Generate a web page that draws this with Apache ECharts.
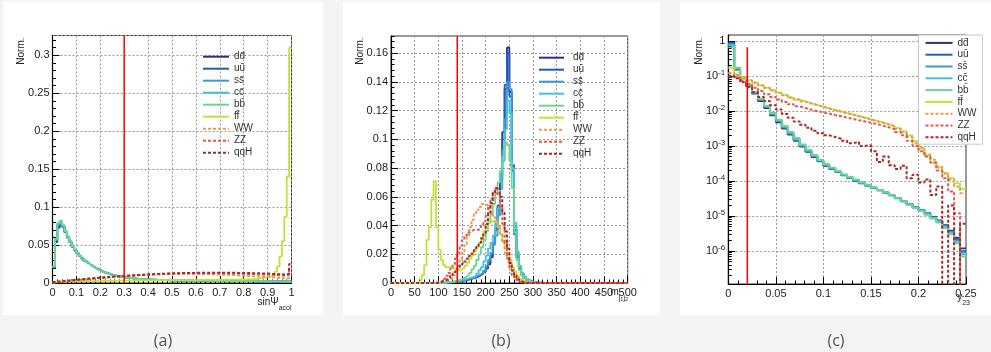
<!DOCTYPE html>
<html>
<head>
<meta charset="utf-8">
<title>Normalised distributions</title>
<script src="https://cdn.jsdelivr.net/npm/echarts@6.0.0/dist/echarts.min.js"></script>
<style>
html,body{margin:0;padding:0;background:#f4f4f4;}
#chart{width:991px;height:352px;}
</style>
</head>
<body>
<div id="chart"></div>
<script>
// ---------- categories / labels ----------
const seriesNames = ['dd\u0304','uu\u0304','ss\u0304','cc\u0304','bb\u0304','ff\u0304','WW','ZZ','qqH'];
const captions = ['(a)','(b)','(c)'];
const yTitle = 'Norm.';

// ---------- panel (a): sinPsi_acol, 100 bins in [0,1] ----------
const a_dd = [0.02,0.054,0.073,0.077,0.074,0.067,0.06,0.054,0.048,0.043,
0.039,0.0355,0.032,0.029,0.0265,0.0242,0.0221,0.0202,0.0185,0.017,
0.0153,0.014,0.0129,0.0119,0.011,0.0102,0.0095,0.0088,0.0082,0.0077,
0.0072,0.0068,0.0064,0.006,0.0057,0.0054,0.0052,0.0049,0.0047,0.0045,
0.0044,0.0043,0.0042,0.0041,0.004,0.0039,0.0038,0.0037,0.0036,0.0036,
0.0035,0.0035,0.0034,0.0034,0.0033,0.0033,0.0032,0.0032,0.0031,0.0031,
0.003,0.003,0.003,0.0029,0.0029,0.0029,0.0028,0.0028,0.0028,0.0027,
0.0027,0.0027,0.0026,0.0026,0.0026,0.0026,0.0025,0.0025,0.0025,0.0024,
0.0024,0.0024,0.0024,0.0023,0.0023,0.0023,0.0023,0.0022,0.0022,0.0022,
0.0022,0.0021,0.0021,0.0021,0.002,0.002,0.002,0.0019,0.0018,0.0017];
const a_uu = [0.021,0.056,0.075,0.079,0.075,0.067,0.06,0.054,0.048,0.043,
0.0392,0.0356,0.0322,0.0292,0.0266,0.0243,0.0222,0.0203,0.0186,0.0171,
0.0154,0.0141,0.013,0.012,0.0111,0.0102,0.0095,0.0089,0.0083,0.0077,
0.0072,0.0068,0.0064,0.0061,0.0057,0.0055,0.0052,0.005,0.0048,0.0046,
0.0045,0.0044,0.0043,0.0042,0.0041,0.004,0.0039,0.0038,0.0037,0.0036,
0.0036,0.0035,0.0035,0.0034,0.0034,0.0033,0.0033,0.0032,0.0032,0.0031,
0.0031,0.003,0.003,0.003,0.0029,0.0029,0.0029,0.0028,0.0028,0.0028,
0.0027,0.0027,0.0027,0.0026,0.0026,0.0026,0.0026,0.0025,0.0025,0.0025,
0.0024,0.0024,0.0024,0.0024,0.0023,0.0023,0.0023,0.0023,0.0022,0.0022,
0.0022,0.0022,0.0021,0.0021,0.0021,0.002,0.002,0.0019,0.0019,0.0018];
const a_ss = [0.021,0.057,0.077,0.08,0.075,0.068,0.061,0.054,0.048,0.043,
0.0395,0.0358,0.0324,0.0293,0.0268,0.0244,0.0222,0.0204,0.0187,0.0171,
0.0155,0.0142,0.0131,0.0121,0.0111,0.0103,0.0096,0.0089,0.0083,0.0078,
0.0073,0.0069,0.0065,0.0061,0.0058,0.0055,0.0053,0.005,0.0048,0.0046,
0.0045,0.0044,0.0043,0.0042,0.0041,0.004,0.0039,0.0038,0.0037,0.0037,
0.0036,0.0035,0.0035,0.0034,0.0034,0.0033,0.0033,0.0032,0.0032,0.0031,
0.0031,0.0031,0.003,0.003,0.003,0.0029,0.0029,0.0029,0.0028,0.0028,
0.0028,0.0027,0.0027,0.0027,0.0026,0.0026,0.0026,0.0025,0.0025,0.0025,
0.0025,0.0024,0.0024,0.0024,0.0023,0.0023,0.0023,0.0023,0.0022,0.0022,
0.0022,0.0021,0.0021,0.0021,0.0021,0.002,0.002,0.0019,0.0019,0.0018];
const a_cc = [0.022,0.058,0.078,0.081,0.076,0.068,0.061,0.055,0.049,0.044,
0.0398,0.036,0.0325,0.0294,0.0269,0.0245,0.0223,0.0204,0.0187,0.0172,
0.0152,0.014,0.0129,0.0119,0.011,0.0102,0.0094,0.0088,0.0082,0.0077,
0.0072,0.0068,0.0064,0.0061,0.0058,0.0055,0.0052,0.005,0.0048,0.0046,
0.0045,0.0044,0.0043,0.0042,0.0041,0.004,0.0039,0.0038,0.0037,0.0037,
0.0036,0.0036,0.0035,0.0034,0.0034,0.0034,0.0033,0.0033,0.0032,0.0032,
0.0031,0.0031,0.003,0.003,0.003,0.0029,0.0029,0.0029,0.0028,0.0028,
0.0028,0.0027,0.0027,0.0027,0.0026,0.0026,0.0026,0.0026,0.0025,0.0025,
0.0025,0.0025,0.0024,0.0024,0.0024,0.0023,0.0023,0.0023,0.0023,0.0022,
0.0022,0.0022,0.0021,0.0021,0.0021,0.0021,0.002,0.002,0.0019,0.0018];
const a_bb = [0.022,0.058,0.079,0.082,0.076,0.068,0.061,0.055,0.049,0.044,
0.04,0.036,0.0325,0.0295,0.027,0.0245,0.0223,0.0204,0.0187,0.0172,
0.015,0.0138,0.0127,0.0117,0.0108,0.01,0.0093,0.0087,0.0081,0.0076,
0.0071,0.0067,0.0063,0.006,0.0057,0.0054,0.0052,0.005,0.0048,0.0046,
0.0045,0.0044,0.0043,0.0042,0.0041,0.004,0.0039,0.0038,0.0037,0.0037,
0.0036,0.0036,0.0035,0.0035,0.0034,0.0034,0.0033,0.0033,0.0032,0.0032,
0.0031,0.0031,0.003,0.003,0.003,0.0029,0.0029,0.0029,0.0028,0.0028,
0.0028,0.0027,0.0027,0.0027,0.0026,0.0026,0.0026,0.0026,0.0025,0.0025,
0.0025,0.0025,0.0024,0.0024,0.0024,0.0024,0.0023,0.0023,0.0023,0.0023,
0.0022,0.0022,0.0022,0.0021,0.0021,0.0021,0.002,0.002,0.0019,0.0018];
const a_ff = [0.0012,0.0018,0.002,0.0021,0.0022,0.0022,0.0023,0.0023,0.0023,0.0024,
0.0024,0.0024,0.0025,0.0025,0.0025,0.0026,0.0026,0.0026,0.0027,0.0027,
0.0027,0.0028,0.0028,0.0028,0.0029,0.0029,0.003,0.003,0.003,0.0031,
0.0031,0.0032,0.0032,0.0032,0.0033,0.0033,0.0033,0.0034,0.0034,0.0034,
0.0035,0.0035,0.0035,0.0035,0.0036,0.0036,0.0036,0.0036,0.0037,0.0037,
0.0037,0.0037,0.0038,0.0038,0.0038,0.0038,0.0039,0.0039,0.0039,0.0039,
0.004,0.004,0.004,0.004,0.0041,0.0041,0.0041,0.0042,0.0042,0.0042,
0.0043,0.0043,0.0043,0.0044,0.0044,0.0044,0.0045,0.0045,0.0046,0.0046,
0.0047,0.0048,0.0049,0.005,0.0052,0.0055,0.006,0.0065,0.007,0.0075,
0.008,0.009,0.0105,0.015,0.022,0.035,0.055,0.087,0.14,0.31];
const a_WW = [0.0008,0.0012,0.0016,0.002,0.0024,0.0028,0.0031,0.0034,0.0037,0.004,
0.0043,0.0046,0.0049,0.0052,0.0055,0.0058,0.006,0.0063,0.0066,0.0068,
0.0071,0.0073,0.0076,0.0078,0.0081,0.0083,0.0086,0.0088,0.009,0.0092,
0.0094,0.0096,0.0098,0.01,0.0102,0.0104,0.0106,0.0107,0.0109,0.011,
0.0112,0.0113,0.0114,0.0115,0.0116,0.0117,0.0118,0.0119,0.012,0.012,
0.0121,0.0121,0.0122,0.0122,0.0122,0.0122,0.0122,0.0122,0.0121,0.0121,
0.012,0.012,0.0119,0.0118,0.0117,0.0116,0.0115,0.0114,0.0112,0.0111,
0.011,0.0108,0.0107,0.0105,0.0104,0.0102,0.01,0.0099,0.0097,0.0095,
0.0094,0.0092,0.009,0.0088,0.0087,0.0085,0.0083,0.0081,0.0079,0.0077,
0.0075,0.0073,0.0071,0.0069,0.0067,0.0065,0.0063,0.0062,0.0064,0.009];
const a_ZZ = [0.0008,0.0011,0.0014,0.0017,0.002,0.0023,0.0026,0.0029,0.0032,0.0035,
0.0038,0.0041,0.0044,0.0047,0.005,0.0053,0.0056,0.0059,0.0062,0.0064,
0.0067,0.007,0.0072,0.0075,0.0077,0.008,0.0082,0.0085,0.0087,0.0089,
0.0091,0.0094,0.0096,0.0098,0.01,0.0102,0.0104,0.0106,0.0108,0.011,
0.0111,0.0113,0.0115,0.0116,0.0118,0.0119,0.012,0.0121,0.0122,0.0123,
0.0124,0.0125,0.0126,0.0127,0.0127,0.0128,0.0128,0.0129,0.0129,0.0129,
0.013,0.013,0.013,0.013,0.013,0.013,0.013,0.0129,0.0129,0.0129,
0.0128,0.0128,0.0127,0.0127,0.0126,0.0125,0.0124,0.0124,0.0123,0.0122,
0.0121,0.012,0.0119,0.0118,0.0117,0.0116,0.0115,0.0113,0.0112,0.0111,
0.011,0.0108,0.0106,0.0104,0.0102,0.01,0.0098,0.0097,0.0105,0.018];
const a_qqH = [0.0012,0.0016,0.002,0.0023,0.0027,0.003,0.0033,0.0037,0.004,0.0043,
0.0046,0.0049,0.0052,0.0055,0.0058,0.006,0.0063,0.0066,0.0068,0.0071,
0.0073,0.0076,0.0078,0.008,0.0083,0.0085,0.0087,0.0089,0.0091,0.0093,
0.0095,0.0097,0.0099,0.0101,0.0103,0.0105,0.0107,0.0109,0.011,0.0112,
0.0114,0.0115,0.0117,0.0118,0.012,0.0121,0.0122,0.0124,0.0125,0.0126,
0.0127,0.0128,0.0129,0.013,0.0131,0.0131,0.0132,0.0133,0.0133,0.0134,
0.0134,0.0135,0.0135,0.0135,0.0136,0.0136,0.0136,0.0136,0.0136,0.0136,
0.0136,0.0136,0.0135,0.0135,0.0135,0.0134,0.0134,0.0133,0.0133,0.0132,
0.0132,0.0131,0.013,0.013,0.0129,0.0128,0.0127,0.0126,0.0125,0.0124,
0.0123,0.0121,0.012,0.0118,0.0116,0.0114,0.0112,0.0112,0.0125,0.025];

// ---------- panel (b): m_j1j2, 100 bins of 5 in [0,500] ----------
const Z10 = [0,0,0,0,0,0,0,0,0,0];
const b_dd = [...Z10, ...Z10,
0,0,0,0,0.0003,0.0005,0.0007,0.0009,0.0011,0.0013,
0.0016,0.002,0.0024,0.0028,0.0033,0.0039,0.0046,0.0055,0.0066,0.008,
0.01,0.013,0.018,0.027,0.037,0.052,0.072,0.105,0.135,0.164,
0.133,0.078,0.034,0.018,0.01,0.006,0.004,0.0025,0.0015,0.001,
0.0005,0.0003,0.0002,0.0001,0,0,0,0,0,0,
...Z10, ...Z10, ...Z10];
const b_uu = [...Z10, ...Z10,
0,0,0,0,0.0003,0.0005,0.0007,0.001,0.0012,0.0014,
0.0017,0.0021,0.0025,0.003,0.0035,0.0041,0.0048,0.0057,0.0068,0.0082,
0.0105,0.014,0.019,0.028,0.038,0.054,0.075,0.1,0.138,0.16,
0.13,0.082,0.037,0.019,0.011,0.0065,0.004,0.0025,0.0015,0.001,
0.0006,0.0003,0.0002,0.0001,0,0,0,0,0,0,
...Z10, ...Z10, ...Z10];
const b_ss = [...Z10, ...Z10,
0,0,0,0.0002,0.0004,0.0006,0.0008,0.001,0.0013,0.0016,
0.0019,0.0023,0.0028,0.0033,0.0039,0.0045,0.0052,0.006,0.007,0.0085,
0.012,0.016,0.021,0.027,0.033,0.047,0.066,0.093,0.114,0.14,
0.135,0.08,0.04,0.02,0.011,0.006,0.0035,0.002,0.0012,0.0007,
0.0004,0.0002,0.0001,0,0,0,0,0,0,0,
...Z10, ...Z10, ...Z10];
const b_cc = [...Z10, ...Z10,
0,0,0.0002,0.0004,0.0006,0.0008,0.001,0.0013,0.0016,0.002,
0.0024,0.0028,0.0033,0.0038,0.004,0.005,0.0065,0.009,0.011,0.015,
0.019,0.024,0.028,0.033,0.042,0.052,0.065,0.085,0.107,0.127,
0.118,0.08,0.042,0.022,0.012,0.007,0.004,0.0025,0.0015,0.001,
0.0005,0.0003,0.0001,0,0,0,0,0,0,0,
...Z10, ...Z10, ...Z10];
const b_bb = [...Z10, ...Z10,
0,0.0002,0.0004,0.0006,0.0008,0.001,0.0013,0.0017,0.0022,0.0028,
0.0035,0.0045,0.0055,0.007,0.0095,0.012,0.016,0.02,0.025,0.03,
0.036,0.042,0.048,0.055,0.062,0.07,0.078,0.088,0.098,0.096,
0.085,0.066,0.035,0.016,0.009,0.005,0.003,0.002,0.001,0.0005,
0.0003,0.0001,0,0,0,0,0,0,0,0,
...Z10, ...Z10, ...Z10];
const b_ff = [...Z10,
0.0003,0.0008,0.002,0.0055,0.0125,0.03,0.039,0.058,0.071,0.039,
0.023,0.016,0.0125,0.011,0.011,0.0105,0.01,0.0095,0.009,0.0095,
0.0105,0.012,0.014,0.017,0.019,0.022,0.025,0.028,0.032,0.036,
0.039,0.042,0.043,0.043,0.042,0.039,0.034,0.029,0.024,0.02,
0.016,0.011,0.008,0.005,0.003,0.002,0.001,0.0005,0.0003,0,
...Z10, ...Z10, ...Z10, ...Z10];
const b_WW = [...Z10,
0,0,0,0,0,0,0,0,0,0.0003,
0.0005,0.001,0.0015,0.002,0.0025,0.0035,0.0055,0.008,0.012,0.016,
0.021,0.027,0.033,0.039,0.044,0.048,0.051,0.053,0.055,0.055,
0.054,0.052,0.049,0.046,0.043,0.04,0.034,0.028,0.021,0.017,
0.013,0.009,0.006,0.0035,0.002,0.001,0.0005,0.0003,0,0,
...Z10, ...Z10, ...Z10, ...Z10];
const b_ZZ = [...Z10,
0,0,0,0,0,0,0,0,0.0003,0.0005,
0.001,0.0015,0.003,0.005,0.007,0.01,0.013,0.017,0.021,0.026,
0.03,0.033,0.035,0.036,0.037,0.037,0.037,0.038,0.04,0.043,
0.047,0.053,0.059,0.064,0.066,0.062,0.053,0.041,0.028,0.017,
0.01,0.0055,0.003,0.0015,0.0008,0.0004,0.0002,0,0,0,
...Z10, ...Z10, ...Z10, ...Z10];
const b_qqH = [...Z10, ...Z10,
0.0005,0.001,0.0015,0.0025,0.0035,0.005,0.0065,0.008,0.0105,0.012,
0.0135,0.015,0.017,0.019,0.0205,0.023,0.025,0.028,0.031,0.0346,
0.041,0.049,0.0557,0.0625,0.066,0.067,0.06,0.049,0.036,0.024,
0.014,0.0085,0.005,0.0025,0.0012,0.0006,0.0003,0,0,0,
...Z10, ...Z10, ...Z10, ...Z10];

// ---------- panel (c): y23, 40 bins in [0,0.25], log scale ----------
const c_dd = [0.9,0.15,0.085,0.05,0.031,0.019,0.012,0.0075,0.0047,0.0031,
0.0021,0.0014,0.00095,0.00068,0.00048,0.00036,0.00027,0.00022,0.00018,0.000145,
0.00012,0.0001,0.000086,0.000074,0.000063,0.000054,0.000046,0.000039,0.000033,0.000027,
0.000022,0.000018,0.000015,0.000012,0.0000095,0.0000075,0.0000055,0.0000038,0.0000024,0.0000012];
const c_uu = [0.85,0.16,0.088,0.052,0.032,0.02,0.0125,0.0078,0.005,0.0033,
0.0022,0.0015,0.001,0.0007,0.0005,0.00037,0.00028,0.00022,0.00018,0.000147,
0.000122,0.000102,0.000087,0.000075,0.000064,0.000055,0.000047,0.00004,0.000033,0.000027,
0.000022,0.000018,0.000015,0.000012,0.0000092,0.0000072,0.0000053,0.0000036,0.0000022,0.000001];
const c_ss = [0.8,0.16,0.089,0.053,0.033,0.021,0.013,0.0081,0.0052,0.0034,
0.0023,0.0015,0.00102,0.00072,0.00051,0.00038,0.00029,0.00023,0.000185,0.00015,
0.000124,0.000104,0.000089,0.000076,0.000065,0.000055,0.000047,0.00004,0.000033,0.000027,
0.000022,0.000018,0.000015,0.000012,0.000009,0.0000072,0.0000052,0.0000035,0.000002,0.0000009];
const c_cc = [0.75,0.165,0.09,0.054,0.034,0.0215,0.0135,0.0085,0.0054,0.0036,
0.0024,0.0016,0.00106,0.00075,0.00053,0.00039,0.0003,0.000235,0.000188,0.000152,
0.000126,0.000106,0.00009,0.000077,0.000065,0.000055,0.000047,0.000039,0.000032,0.000026,
0.000021,0.000017,0.000014,0.000011,0.0000088,0.0000068,0.0000049,0.0000033,0.0000018,0.0000008];
const c_bb = [0.65,0.17,0.092,0.056,0.035,0.022,0.014,0.0088,0.0056,0.0037,
0.0025,0.0017,0.0011,0.00078,0.00055,0.0004,0.0003,0.00024,0.00019,0.000155,
0.00013,0.00011,0.000092,0.000078,0.000066,0.000056,0.000047,0.000039,0.000032,0.000026,
0.000021,0.000017,0.000014,0.000011,0.0000085,0.0000065,0.0000045,0.000003,0.0000017,0.0000007];
const c_ff = [0.17,0.11,0.088,0.075,0.064,0.054,0.046,0.039,0.033,0.028,
0.024,0.021,0.0185,0.0165,0.0148,0.0132,0.0118,0.0106,0.0096,0.0087,
0.0079,0.0071,0.0064,0.0058,0.0052,0.0047,0.0042,0.0037,0.0032,0.0026,
0.002,0.0014,0.00085,0.00052,0.00034,0.00024,0.00017,0.00012,0.000085,0.00006];
const c_WW = [0.12,0.105,0.087,0.074,0.063,0.053,0.045,0.038,0.033,0.028,
0.024,0.021,0.0184,0.0163,0.0146,0.013,0.0117,0.0105,0.0095,0.0086,
0.0078,0.007,0.0063,0.0057,0.0051,0.0046,0.0041,0.0036,0.0031,0.0025,
0.0018,0.0012,0.0009,0.00058,0.0004,0.00026,0.00016,0.00011,0.00007,0.000045];
const c_ZZ = [0.095,0.085,0.072,0.058,0.046,0.037,0.03,0.025,0.021,0.018,
0.0155,0.0135,0.012,0.0108,0.0098,0.009,0.0083,0.0076,0.007,0.0064,
0.0059,0.0054,0.005,0.0046,0.0042,0.0038,0.0034,0.003,0.0025,0.002,
0.0014,0.001,0.0007,0.0005,0.00033,0.0002,0.00012,0.00005,0.000012,0];
const c_qqH = [0.1,0.085,0.065,0.047,0.034,0.025,0.019,0.0145,0.011,0.0082,
0.0064,0.005,0.004,0.0033,0.0027,0.0023,0.002,0.0018,0.0016,0.0014,
0.0012,0.0013,0.001,0.00105,0.0007,0.00035,0.0005,0.00028,0.00022,0.00027,
0.00012,0.00015,0.00009,0.00011,0.00004,0.00007,0,0.00002,0,0.000006];

// ---------- cut positions ----------
const cutA = 0.3, cutB = 140, cutC = 0.02, cutCTop = 0.65;

// ---------- axis ranges ----------
const xRange = [[0,1],[0,500],[0,0.25]];
const xStep = [0.1, 50, 0.05];
const yRangeA = [0, 0.326], yRangeB = [0, 0.172], yRangeC = [1.15e-7, 1.46];

// ---------- styles ----------
const looks = [
  {color:'#2e2f86', type:'solid', w:1.8},
  {color:'#1f5cc0', type:'solid', w:1.8},
  {color:'#3b98de', type:'solid', w:1.8},
  {color:'#3fc6d6', type:'solid', w:1.8},
  {color:'#6fd58a', type:'solid', w:1.8},
  {color:'#bfe235', type:'solid', w:1.8},
  {color:'#e99a4d', type:[3,2], w:2},
  {color:'#e4584a', type:[3,2], w:2},
  {color:'#a82828', type:[3,2], w:2}
];
const FONT = 'Liberation Sans, Arial, DejaVu Sans, sans-serif';
const panels = [
  [a_dd,a_uu,a_ss,a_cc,a_bb,a_ff,a_WW,a_ZZ,a_qqH],
  [b_dd,b_uu,b_ss,b_cc,b_bb,b_ff,b_WW,b_ZZ,b_qqH],
  [c_dd,c_uu,c_ss,c_cc,c_bb,c_ff,c_WW,c_ZZ,c_qqH]
];

function hist(vals, lo, hi, floor) {
  const w = (hi - lo) / vals.length;
  const pts = vals.map((v, i) => [lo + i * w, (floor != null && v <= 0) ? floor : v]);
  pts.push([hi, pts[pts.length - 1][1]]);
  return pts;
}

const grids = [
  {left:52.5, top:35.5, width:239, height:247.5},
  {left:391, top:36, width:236.7, height:247},
  {left:728.3, top:35, width:237.7, height:249}
].map(g => Object.assign(g, {show:true, borderColor:'#333', borderWidth:1, backgroundColor:'transparent', containLabel:false, outerBoundsMode:'none'}));

const dotted = {show:true, lineStyle:{color:'#9a9a9a', width:1, type:[2,2]}};
const labelStyle = {fontSize:11, color:'#222', fontFamily:FONT};

const xAxes = [0,1,2].map(i => ({
  gridIndex:i, type:'value', min:xRange[i][0], max:xRange[i][1], interval:xStep[i],
  axisLine:{show:true, onZero:false, lineStyle:{color:'#000', width:1.2}},
  axisTick:{show:true, inside:true, length:7, lineStyle:{color:'#000'}},
  minorTick:{show:true, splitNumber:5, length:3.5, lineStyle:{color:'#000'}},
  splitLine:dotted,
  axisLabel:Object.assign({margin:4}, labelStyle)
}));

function yMain(i, extra) {
  return Object.assign({
    gridIndex:i, position:'left',
    axisLine:{show:true, onZero:false, lineStyle:{color:'#000', width:1.2}},
    axisTick:{show:true, inside:true, length:7, lineStyle:{color:'#000'}},
    splitLine:dotted,
    axisLabel:Object.assign({margin:3, showMaxLabel:false}, labelStyle)
  }, extra);
}
function yMinor(i, min, max, vals) {
  return {gridIndex:i, type:'value', position:'left', min:min, max:max,
    axisLine:{show:false}, axisLabel:{show:false}, splitLine:{show:false},
    axisTick:{show:true, inside:true, length:3.5, lineStyle:{color:'#000'}, customValues:vals}};
}
const minorA = [], minorB = [], minorC = [];
for (let k = 1; k <= 32; k++) if (k % 5) minorA.push(+(k * 0.01).toFixed(4));
for (let k = 1; k <= 43; k++) if (k % 5) minorB.push(+(k * 0.004).toFixed(4));
for (let n = -7; n <= 0; n++) for (let k = 2; k <= 9; k++) {
  const v = Math.log10(k) + n;
  if (v > Math.log10(yRangeC[0]) && v < Math.log10(yRangeC[1])) minorC.push(v);
}

const yAxes = [
  yMain(0, {type:'value', min:yRangeA[0], max:yRangeA[1], interval:0.05}),
  yMain(1, {type:'value', min:yRangeB[0], max:yRangeB[1], interval:0.02}),
  yMain(2, {type:'log', logBase:10, min:yRangeC[0], max:yRangeC[1],
    axisLabel:Object.assign({margin:3, showMaxLabel:false, showMinLabel:false, lineHeight:15,
      formatter: v => {
        const l = Math.log10(v), e = Math.round(l);
        if (Math.abs(l - e) > 1e-6) return '';
        return e === 0 ? '1' : '10{sup|' + e + '}';
      },
      rich:{sup:{fontSize:8, lineHeight:8, verticalAlign:'top', color:'#222', fontFamily:FONT}}
    }, labelStyle, {fontSize:11})}),
  yMinor(0, yRangeA[0], yRangeA[1], minorA),
  yMinor(1, yRangeB[0], yRangeB[1], minorB),
  yMinor(2, Math.log10(yRangeC[0]), Math.log10(yRangeC[1]), minorC)
];

const series = [];
panels.forEach((arrs, p) => {
  arrs.forEach((vals, k) => {
    series.push({
      type:'line', name:seriesNames[k], xAxisIndex:p, yAxisIndex:p,
      data:hist(vals, xRange[p][0], xRange[p][1], p === 2 ? 1e-9 : null),
      step:'end', symbol:'none', showSymbol:false, clip:true, silent:true, animation:false,
      lineStyle:{color:looks[k].color, width:looks[k].w, type:looks[k].type},
      itemStyle:{color:looks[k].color}
    });
  });
});
const cutLine = (p, pts) => ({type:'line', xAxisIndex:p, yAxisIndex:p, data:pts, symbol:'none',
  silent:true, animation:false, lineStyle:{color:'#ff0000', width:1.5}});
series.push(cutLine(0, [[cutA, yRangeA[0]], [cutA, yRangeA[1]]]));
series.push(cutLine(1, [[cutB, yRangeB[0]], [cutB, yRangeB[1]]]));
series.push(cutLine(2, [[cutC, yRangeC[0]], [cutC, cutCTop]]));

const legendBase = {orient:'vertical', data:seriesNames, itemHeight:10, itemGap:0, selectedMode:false,
  itemStyle:{opacity:0, borderWidth:0, color:'transparent'},
  textStyle:{fontSize:10, color:'#333', lineHeight:12, fontFamily:FONT}};
const legends = [
  Object.assign({}, legendBase, {left:202, top:50.7, itemWidth:26, padding:0}),
  Object.assign({}, legendBase, {left:538, top:51.7, itemWidth:25, padding:0, textStyle:Object.assign({}, legendBase.textStyle, {padding:[0,0,0,4]})}),
  Object.assign({}, legendBase, {left:918.5, top:35, itemWidth:27, padding:[2,6,1,6],
    backgroundColor:'#fff', borderColor:'#c8c8c8', borderWidth:1,
    textStyle:Object.assign({}, legendBase.textStyle, {lineHeight:11.8})})
];

function txt(x, y, text, style, rot) {
  return {type:'text', x:x, y:y, rotation:rot || 0, silent:true, z:50,
    style:Object.assign({text:text, fill:'#222', fontFamily:FONT, fontSize:10}, style)};
}
const subRich = {
  b:{fontSize:10, lineHeight:15, fontFamily:FONT, fill:'#222', verticalAlign:'top'},
  s:{fontSize:7, lineHeight:9, fontFamily:FONT, fill:'#222', verticalAlign:'bottom'},
  s2:{fontSize:5.5, lineHeight:6, fontFamily:FONT, fill:'#222', verticalAlign:'bottom'}
};
const capStyle = {fontSize:16, fill:'#555', align:'center', verticalAlign:'middle', textAlign:'center', textVerticalAlign:'middle', fontFamily:'Open Sans, sans-serif'};
const yTitleStyle = {align:'right', verticalAlign:'middle', textAlign:'right', textVerticalAlign:'middle'};
const xTitleStyle = {align:'right', verticalAlign:'top', textAlign:'right', textVerticalAlign:'top', rich:subRich};
const graphics = [
  {type:'rect', shape:{x:3, y:2, width:320, height:313}, style:{fill:'#fff'}, silent:true, z:-10},
  {type:'rect', shape:{x:343, y:2, width:317, height:313}, style:{fill:'#fff'}, silent:true, z:-10},
  {type:'rect', shape:{x:680, y:2, width:311, height:313}, style:{fill:'#fff'}, silent:true, z:-10},
  txt(163, 341, captions[0], capStyle),
  txt(501, 341, captions[1], capStyle),
  txt(836, 341, captions[2], capStyle),
  txt(21.5, 37.5, yTitle, yTitleStyle, Math.PI/2),
  txt(360, 37.5, yTitle, yTitleStyle, Math.PI/2),
  txt(699.5, 37.5, yTitle, yTitleStyle, Math.PI/2),
  txt(291.5, 297, '{b|sin\u03A8}{s|acol}', xTitleStyle),
  txt(628, 287, '{b|m}{s|j}{s2|1}{s|j}{s2|2}', xTitleStyle),
  txt(970, 292, '{b|y}{s|23}', xTitleStyle)
];

const chart = echarts.init(document.getElementById('chart'), null, {renderer:'canvas'});
chart.setOption({
  backgroundColor:'#f4f4f4',
  animation:false,
  textStyle:{fontFamily:FONT},
  grid:grids,
  xAxis:xAxes,
  yAxis:yAxes,
  legend:legends,
  series:series,
  graphic:{elements:graphics}
});
</script>
</body>
</html>
